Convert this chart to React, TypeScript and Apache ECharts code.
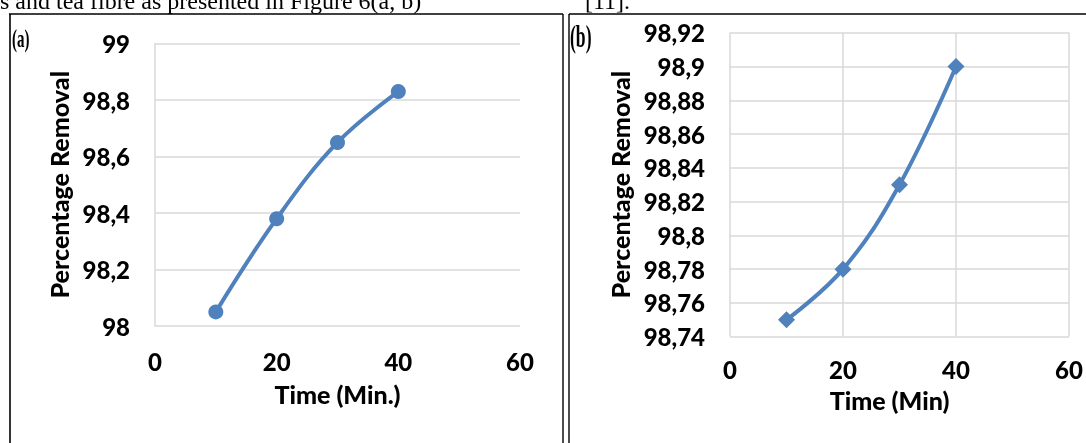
import React, { useEffect, useRef } from "react";
import * as echarts from "echarts";

// Panel (a)
const timeA = [10, 20, 30, 40];
const removalA = [98.05, 98.38, 98.65, 98.83];
// Panel (b)
const timeB = [10, 20, 30, 40];
const removalB = [98.75, 98.78, 98.83, 98.9];

const xTicks = [0, 20, 40, 60];
const yTicksA = [98, 98.2, 98.4, 98.6, 98.8, 99];
const yTicksB = [98.74, 98.76, 98.78, 98.8, 98.82, 98.84, 98.86, 98.88, 98.9, 98.92];

const captionLeft = "s and tea fibre as presented in Figure 6(a, b)";
const captionRight = "[11].";

const BLUE = "#4F81BD";
const GRID = "#D9D9D9";
const FONT = "Lato";

const fmt = (v: number) => String(Math.round(v * 100) / 100).replace(".", ",");

export default function App() {
  const ref = useRef<HTMLDivElement>(null);
  useEffect(() => {
    document.body.style.margin = "0";
    const chart = echarts.init(ref.current!, null, { renderer: "svg" });
    const labelStyle = {
      color: "#000",
      fontFamily: FONT,
      fontWeight: 900,
      fontSize: 24,
    };
    const nameStyle = {
      color: "#000",
      fontFamily: FONT,
      fontWeight: 900,
      fontSize: 25,
    };
    chart.setOption({
      animation: false,
      grid: [
        { left: 155, top: 43.6, width: 365, height: 282.4 },
        { left: 730, top: 32.7, width: 339, height: 304 },
      ],
      xAxis: [
        {
          gridIndex: 0,
          type: "value",
          min: xTicks[0],
          max: xTicks[xTicks.length - 1],
          interval: xTicks[1] - xTicks[0],
          axisLine: { show: false },
          axisTick: { show: false },
          splitLine: { show: false },
          axisLabel: { ...labelStyle, margin: 23 },
          name: "Time (Min.)",
          nameLocation: "middle",
          nameGap: 55,
          nameTextStyle: nameStyle,
        },
        {
          gridIndex: 1,
          type: "value",
          min: xTicks[0],
          max: xTicks[xTicks.length - 1],
          interval: xTicks[1] - xTicks[0],
          axisLine: { show: false },
          axisTick: { show: false },
          splitLine: { show: true, lineStyle: { color: GRID, width: 1.5 } },
          axisLabel: { ...labelStyle, margin: 21 },
          name: "Time (Min)",
          nameLocation: "middle",
          nameGap: 51,
          nameTextStyle: { ...nameStyle, padding: [0, 20, 0, 0] },
        },
      ],
      yAxis: [
        {
          gridIndex: 0,
          type: "value",
          min: yTicksA[0],
          max: yTicksA[yTicksA.length - 1],
          interval: 0.2,
          axisLine: { show: true, lineStyle: { color: GRID, width: 1.5 } },
          axisTick: { show: false },
          splitLine: { show: true, lineStyle: { color: GRID, width: 1.5 } },
          axisLabel: { ...labelStyle, margin: 25, formatter: fmt },
          name: "Percentage Removal",
          nameLocation: "middle",
          nameGap: 84,
          nameTextStyle: nameStyle,
        },
        {
          gridIndex: 1,
          type: "value",
          min: yTicksB[0],
          max: yTicksB[yTicksB.length - 1],
          interval: 0.02,
          axisLine: { show: false },
          axisTick: { show: false },
          splitLine: { show: true, lineStyle: { color: GRID, width: 1.5 } },
          axisLabel: { ...labelStyle, margin: 25, formatter: fmt },
          name: "Percentage Removal",
          nameLocation: "middle",
          nameGap: 98,
          nameTextStyle: nameStyle,
        },
      ],
      series: [
        {
          type: "line",
          xAxisIndex: 0,
          yAxisIndex: 0,
          data: timeA.map((t, i) => [t, removalA[i]]),
          smooth: 0.4,
          symbol: "circle",
          symbolSize: 15,
          lineStyle: { color: BLUE, width: 4 },
          itemStyle: { color: BLUE },
        },
        {
          type: "line",
          xAxisIndex: 1,
          yAxisIndex: 1,
          data: timeB.map((t, i) => [t, removalB[i]]),
          smooth: 0.4,
          symbol: "diamond",
          symbolSize: 17,
          lineStyle: { color: BLUE, width: 4 },
          itemStyle: { color: BLUE },
        },
      ],
      graphic: [
        { type: "line", shape: { x1: 9, y1: 14, x2: 563, y2: 14 }, style: { stroke: "#000", lineWidth: 1.6 } },
        { type: "line", shape: { x1: 10, y1: 14, x2: 10, y2: 443 }, style: { stroke: "#000", lineWidth: 1.6 } },
        { type: "line", shape: { x1: 563, y1: 14, x2: 563, y2: 443 }, style: { stroke: "#000", lineWidth: 1.4 } },
        { type: "line", shape: { x1: 569, y1: 14, x2: 1086, y2: 14 }, style: { stroke: "#000", lineWidth: 1.6 } },
        { type: "line", shape: { x1: 569, y1: 14, x2: 569, y2: 443 }, style: { stroke: "#000", lineWidth: 1.4 } },
        {
          type: "text",
          x: 0,
          y: 13,
          style: { text: captionLeft, font: "24px 'Liberation Serif'", fill: "#000", verticalAlign: "bottom" },
        },
        {
          type: "text",
          x: 585,
          y: 13,
          style: { text: captionRight, font: "24px 'Liberation Serif'", fill: "#000", verticalAlign: "bottom" },
        },
        {
          type: "text",
          x: 12,
          y: 26,
          scaleX: 0.6,
          style: { text: "(a)", font: "bold 25px 'Liberation Serif'", fill: "#000", verticalAlign: "top" },
        },
        {
          type: "text",
          x: 570,
          y: 20,
          scaleX: 0.55,
          style: { text: "(b)", font: "bold 32px 'Liberation Serif'", fill: "#000", verticalAlign: "top" },
        },
      ],
    });
    return () => chart.dispose();
  }, []);
  return <div ref={ref} style={{ position: "fixed", left: 0, top: 0, width: 1086, height: 443 }} />;
}
